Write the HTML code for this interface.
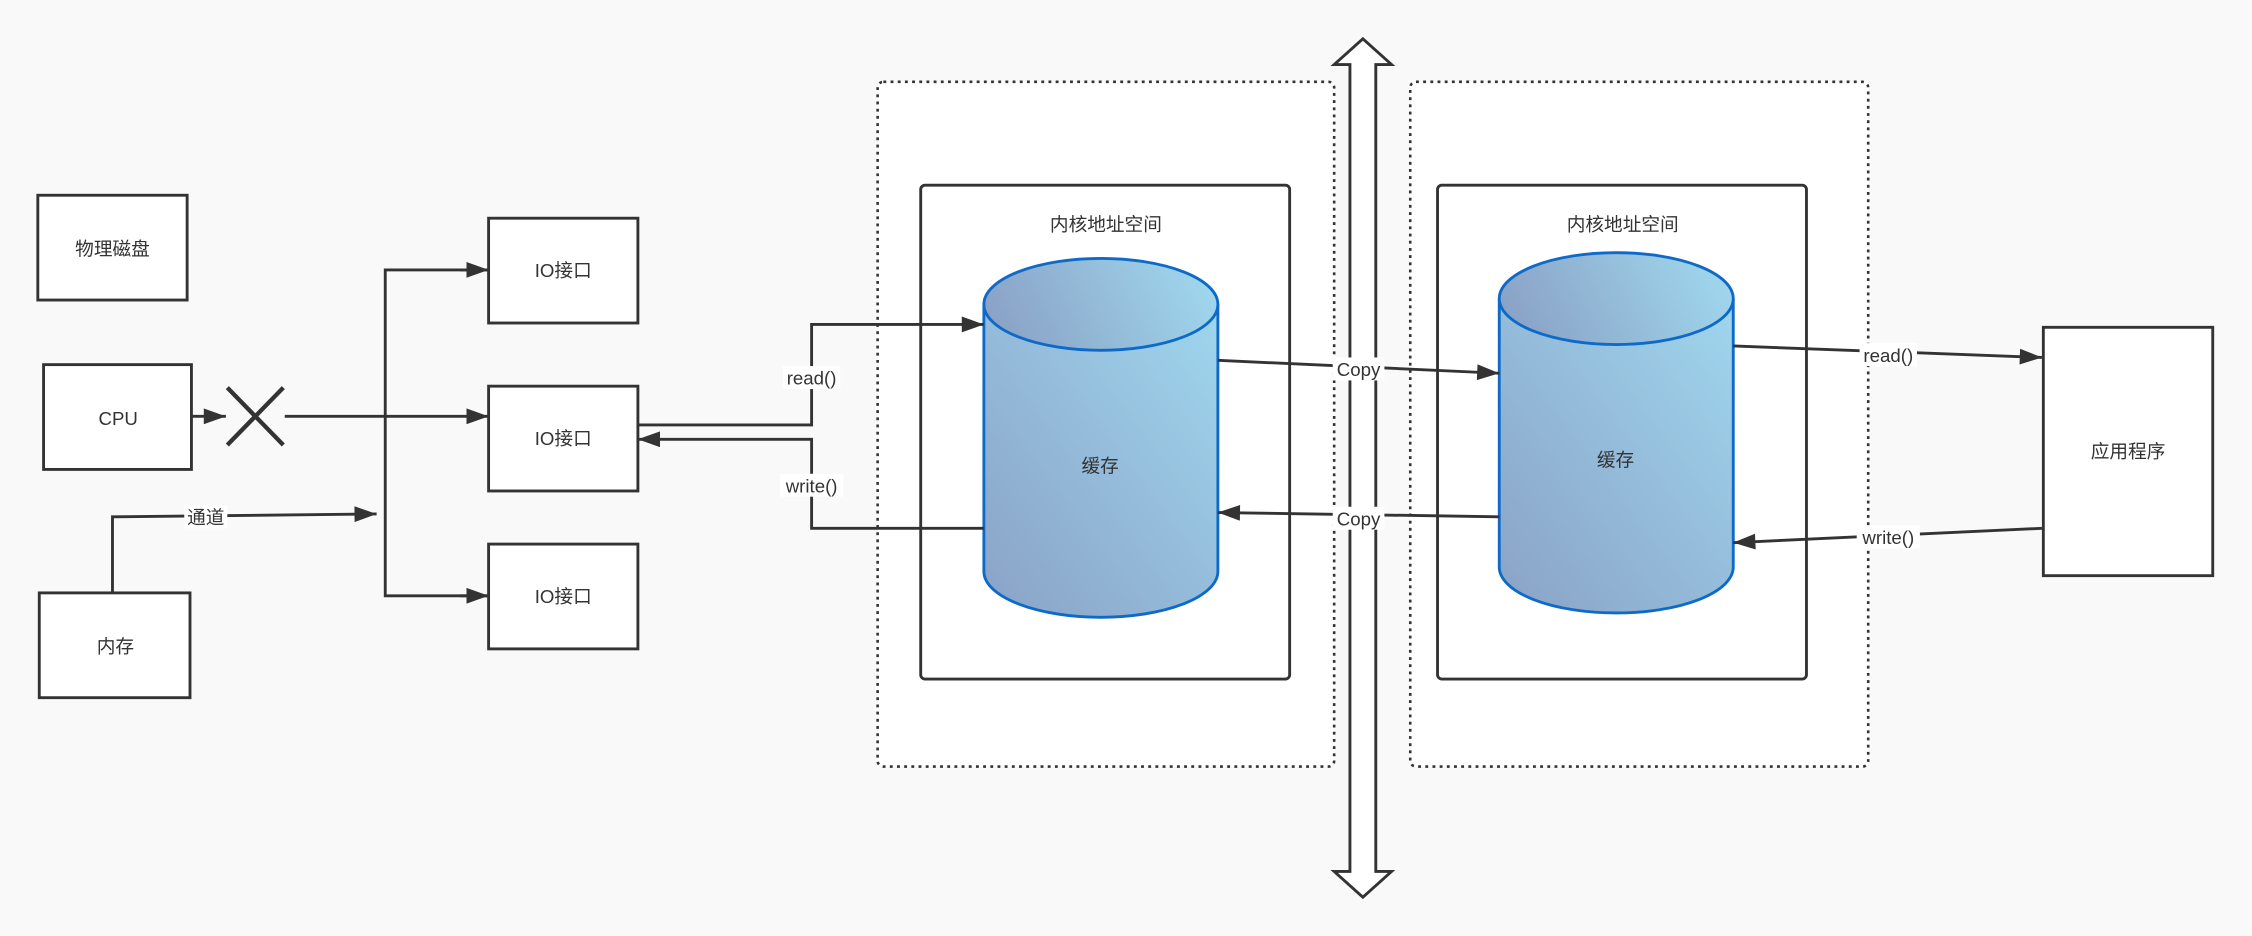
<!DOCTYPE html>
<html><head><meta charset="utf-8"><style>
html,body{margin:0;padding:0;background:#f9f9f9;}
svg{display:block;}
text{font-family:"Liberation Sans","Noto Sans CJK SC",sans-serif;fill:#333;font-size:13px;}
</style></head><body>
<svg width="2252" height="936" viewBox="0 0 1568 652" xmlns="http://www.w3.org/2000/svg">
<defs>
<linearGradient id="g" x1="0" y1="1" x2="1" y2="0">
<stop offset="0" stop-color="#8aa2c6"/><stop offset="1" stop-color="#9fd6ee"/>
</linearGradient>
<linearGradient id="h" x1="0" y1="0.5" x2="1" y2="0.3">
<stop offset="0" stop-color="#8aa2c6"/><stop offset="1" stop-color="#a0d8ee"/>
</linearGradient>
<marker id="b" viewBox="0 0 14 10" refX="14" refY="5" markerWidth="16" markerHeight="11" markerUnits="userSpaceOnUse" orient="auto">
<path d="M0,0 L14,5 L0,10 z" fill="#333"/></marker>
</defs>
<rect width="1568" height="652" fill="#f9f9f9"/>
<g fill="#fff" stroke="#333" stroke-width="2">
<rect x="26" y="136" width="104" height="73"/>
<rect x="30" y="254" width="103" height="73"/>
<rect x="27" y="413" width="105" height="73"/>
<rect x="340" y="152" width="104" height="73"/>
<rect x="340" y="269" width="104" height="73"/>
<rect x="340" y="379" width="104" height="73"/>
<rect x="1423" y="228" width="118" height="173"/>
</g>
<g fill="#fff" stroke="#333" stroke-width="1.8" stroke-dasharray="2,3">
<rect x="611" y="57" width="318" height="477" rx="4"/>
<rect x="982" y="57" width="319" height="477" rx="4"/>
</g>
<g fill="#fff" stroke="#333" stroke-width="2">
<rect x="641" y="129" width="257" height="344" rx="3"/>
<rect x="1001" y="129" width="257" height="344" rx="3"/>
</g>
<text x="770" y="161" text-anchor="middle">内核地址空间</text>
<text x="1130" y="161" text-anchor="middle">内核地址空间</text>
<g stroke="#0e6ac8" stroke-width="2">
<path d="M685,212 L685,398 A81.5,32 0 0 0 848,398 L848,212" fill="url(#g)"/>
<ellipse cx="766.5" cy="212" rx="81.5" ry="32" fill="url(#h)"/>
<path d="M1044,208 L1044,395 A81.5,32 0 0 0 1207,395 L1207,208" fill="url(#g)"/>
<ellipse cx="1125.5" cy="208" rx="81.5" ry="32" fill="url(#h)"/>
</g>
<text x="766" y="329" text-anchor="middle">缓存</text>
<text x="1125" y="325" text-anchor="middle">缓存</text>
<text x="78" y="178" text-anchor="middle">物理磁盘</text>
<text x="82" y="296" text-anchor="middle">CPU</text>
<text x="80" y="455" text-anchor="middle">内存</text>
<text x="392" y="193" text-anchor="middle">IO接口</text>
<text x="392" y="310" text-anchor="middle">IO接口</text>
<text x="392" y="420" text-anchor="middle">IO接口</text>
<text x="1482" y="319" text-anchor="middle">应用程序</text>
<g stroke="#333" stroke-width="2" fill="none">
<line x1="133" y1="290" x2="157" y2="290" marker-end="url(#b)"/>
<line x1="158" y1="270" x2="197" y2="310" stroke-width="3"/>
<line x1="197" y1="270" x2="158" y2="310" stroke-width="3"/>
<line x1="198" y1="290" x2="340" y2="290" marker-end="url(#b)"/>
<polyline points="340,188 268,188 268,415 340,415"/>
<line x1="320" y1="188" x2="340" y2="188" marker-end="url(#b)"/>
<line x1="320" y1="415" x2="340" y2="415" marker-end="url(#b)"/>
<polyline points="78,413 78,360 262,358" marker-end="url(#b)"/>
<polyline points="444,296 565,296 565,226 685,226" marker-end="url(#b)"/>
<polyline points="685,368 565,368 565,306 444,306" marker-end="url(#b)"/>
<line x1="848" y1="251" x2="1044" y2="260" marker-end="url(#b)"/>
<line x1="1044" y1="360" x2="848" y2="357" marker-end="url(#b)"/>
<line x1="1207" y1="241" x2="1422" y2="249" marker-end="url(#b)"/>
<line x1="1422" y1="368" x2="1207" y2="378" marker-end="url(#b)"/>
</g>
<path d="M949,27 L969,45 L958,45 L958,607 L969,607 L949,625 L929,607 L940,607 L940,45 L929,45 Z" fill="#fff" stroke="#333" stroke-width="2"/>
<g>
<rect x="128" y="352" width="30" height="16" fill="#fff"/>
<text x="143" y="365" text-anchor="middle">通道</text>
<rect x="545" y="255" width="40" height="16" fill="#fff"/>
<text x="565" y="268" text-anchor="middle">read()</text>
<rect x="543" y="330" width="44" height="16" fill="#fff"/>
<text x="565" y="343" text-anchor="middle">write()</text>
<rect x="928" y="249" width="36" height="16" fill="#fff"/>
<text x="946" y="262" text-anchor="middle">Copy</text>
<rect x="928" y="353" width="36" height="16" fill="#fff"/>
<text x="946" y="366" text-anchor="middle">Copy</text>
<rect x="1295" y="239" width="40" height="16" fill="#fff"/>
<text x="1315" y="252" text-anchor="middle">read()</text>
<rect x="1293" y="366" width="44" height="16" fill="#fff"/>
<text x="1315" y="379" text-anchor="middle">write()</text>
</g>
</svg>
</body></html>
